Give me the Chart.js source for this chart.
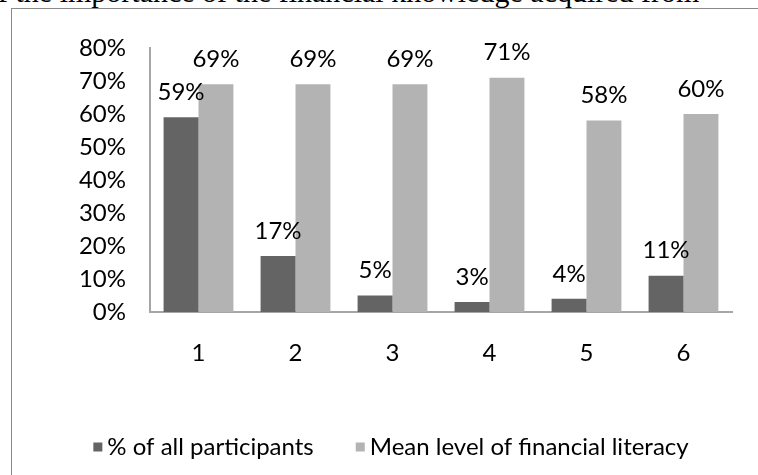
<!DOCTYPE html>
<html>
<head>
<meta charset="utf-8">
<script src="https://cdn.jsdelivr.net/npm/chart.js@4/dist/chart.umd.min.js"></script>
<style>
  html, body { margin: 0; padding: 0; background: #fff; }
  body { width: 758px; height: 475px; position: relative; overflow: hidden; }
  #caption {
    position: absolute; left: -2px; top: -23px;
    font-family: "Liberation Serif", "DejaVu Serif", serif;
    font-size: 30px; line-height: 30px; white-space: nowrap; color: #000;
  }
  #frame {
    position: absolute; left: 11px; top: 8px; width: 800px; height: 500px;
    border-left: 1px solid #8a8a8a; border-top: 1px solid #8a8a8a;
  }
  #wrap { position: absolute; left: 0; top: 0; width: 758px; height: 475px; }
</style>
</head>
<body>
<div id="caption">f the importance of the financial knowledge acquired from</div>
<div id="frame"></div>
<div id="wrap"><canvas id="chartCanvas" width="758" height="475"></canvas></div>
<script>
// Categories and series (percent)
const categories = ['1', '2', '3', '4', '5', '6'];
const shareOfParticipants = [59, 17, 5, 3, 4, 11];
const meanLiteracy = [69, 69, 69, 71, 58, 60];
const yTicks = [0, 10, 20, 30, 40, 50, 60, 70, 80];

const FONT = 'Lato';
const FONT_SIZE = 24;
const DARK = '#646464';
const LIGHT = '#b3b3b3';
const AXIS = '#a6a6a6';

// Writes each bar's value centred above it
const valueLabels = {
  id: 'valueLabels',
  afterDatasetsDraw(chart) {
    const ctx = chart.ctx;
    ctx.save();
    ctx.font = FONT_SIZE + 'px ' + FONT;
    ctx.fillStyle = '#000';
    ctx.textAlign = 'center';
    ctx.textBaseline = 'middle';
    chart.data.datasets.forEach((ds, i) => {
      chart.getDatasetMeta(i).data.forEach((bar, j) => {
        ctx.fillText(ds.data[j] + '%', bar.x, bar.y - 25);
      });
    });
    ctx.restore();
  }
};

// Compact one-row legend under the axis: small square, short gap, label
const bottomLegend = {
  id: 'bottomLegend',
  afterDraw(chart) {
    const ctx = chart.ctx;
    const box = 9, textGap = 5, itemGap = 42;
    const y = 447;
    ctx.save();
    ctx.font = FONT_SIZE + 'px ' + FONT;
    ctx.textBaseline = 'middle';
    ctx.textAlign = 'left';
    const items = chart.data.datasets.map(ds => ({
      text: ds.label, color: ds.backgroundColor,
      w: box + textGap + ctx.measureText(ds.label).width
    }));
    const total = items.reduce((s, it) => s + it.w, 0) + itemGap * (items.length - 1);
    let x = (chart.chartArea.left + chart.chartArea.right) / 2 - 50 - total / 2;
    items.forEach(it => {
      ctx.fillStyle = it.color;
      ctx.fillRect(x, y - box / 2, box, box);
      ctx.fillStyle = '#000';
      ctx.fillText(it.text, x + box + textGap, y);
      x += it.w + itemGap;
    });
    ctx.restore();
  }
};

new Chart(document.getElementById('chartCanvas'), {
  type: 'bar',
  data: {
    labels: categories,
    datasets: [
      { label: '% of all participants', data: shareOfParticipants, backgroundColor: DARK },
      { label: 'Mean level of financial literacy', data: meanLiteracy, backgroundColor: LIGHT }
    ]
  },
  options: {
    responsive: false,
    animation: false,
    layout: { padding: { left: 0, top: 48, right: 26, bottom: 82 } },
    datasets: { bar: { categoryPercentage: 0.72, barPercentage: 1.0 } },
    scales: {
      x: {
        grid: { display: false, drawTicks: false },
        border: { display: true, color: AXIS, width: 2 },
        ticks: { color: '#000', font: { family: FONT, size: FONT_SIZE }, padding: 27 },
        afterFit(scale) { scale.height = 81; }
      },
      y: {
        min: 0, max: 80,
        afterBuildTicks(scale) { scale.ticks = yTicks.map(v => ({ value: v })); },
        grid: { display: false, drawTicks: false },
        border: { display: true, color: AXIS, width: 2 },
        ticks: {
          autoSkip: false,
          color: '#000', font: { family: FONT, size: FONT_SIZE }, padding: 24,
          callback: v => v + '%'
        },
        afterFit(scale) { scale.width = 150; }
      }
    },
    plugins: {
      legend: { display: false },
      tooltip: { enabled: false }
    }
  },
  plugins: [valueLabels, bottomLegend]
});
</script>
</body>
</html>
